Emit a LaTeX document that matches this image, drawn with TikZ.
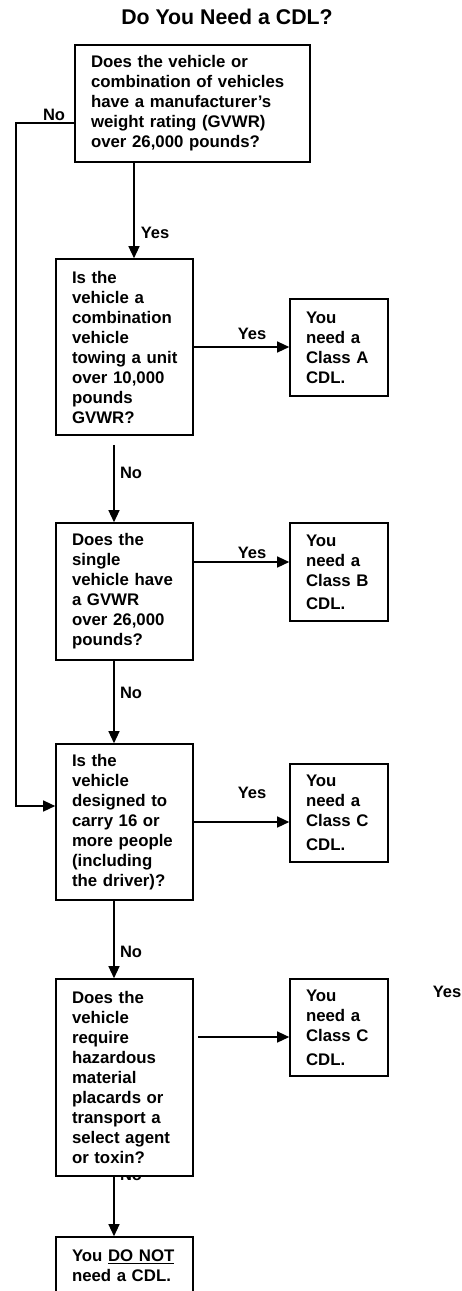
\documentclass[tikz,border=0pt]{standalone}
\usepackage{fontspec}
\setmainfont{Liberation Sans}
\usetikzlibrary{arrows.meta}

\begin{document}
\begin{tikzpicture}[x=1pt,y=-1pt,
  qbox/.style={draw,line width=1.6pt,fill=white,rectangle,align=left,inner xsep=16pt,inner ysep=0pt,font=\fontsize{16.8}{20}\selectfont\bfseries},
  lbl/.style={font=\fontsize{16.5}{20}\selectfont\bfseries},
  arr/.style={line width=1.3pt,-{Triangle[length=12pt,width=11pt]}}]
\useasboundingbox (0,0) rectangle (462,1291);
\clip (0,0) rectangle (462,1291);
\node[font=\fontsize{21.3}{24}\selectfont\bfseries] (title) at (227,17) {Do You Need a CDL?};
\node[lbl] (noHidden) at (131,1175) {No};
\node[qbox,text width=203pt,minimum height=117pt] (overGVWR) at (192.5,103.5) {Does the vehicle or\\combination of vehicles\\have a manufacturer’s\\weight rating (GVWR)\\over 26,000 pounds?};
\node[qbox,text width=105pt,minimum height=176pt] (towing) at (124.5,347) {Is the\\vehicle a\\combination\\vehicle\\\mbox{towing a unit}\\over 10,000\\pounds\\GVWR?};
\node[qbox,text width=66pt,minimum height=97pt] (classA) at (339,347.5) {You\\need a\\Class A\\CDL.};
\node[qbox,text width=105pt,minimum height=137pt] (single) at (124.5,591.5) {Does the\\single\\\mbox{vehicle have}\\a GVWR\\over 26,000\\pounds?};
\node[qbox,text width=66pt,minimum height=98pt] (classB) at (339,572) {You\\need a\\Class B\\[3pt]CDL.};
\node[qbox,text width=105pt,minimum height=156pt] (passengers) at (124.5,822) {Is the\\vehicle\\designed to\\carry 16 or\\\mbox{more people}\\(including\\the driver)?};
\node[qbox,text width=66pt,minimum height=98pt] (classC) at (339,813) {You\\need a\\Class C\\[4pt]CDL.};
\node[qbox,text width=105pt,minimum height=197pt] (hazmat) at (124.5,1077.5) {Does the\\vehicle\\require\\hazardous\\material\\placards or\\transport a\\\mbox{select agent}\\or toxin?};
\node[qbox,text width=66pt,minimum height=97pt] (classCh) at (339,1027.5) {You\\need a\\Class C\\[4pt]CDL.};
\node[qbox,text width=105pt,minimum height=57pt] (noCDL) at (124.5,1265.5) {\mbox{You \underline{DO NOT}}\\need a CDL.};
\node[lbl] (noTop) at (54,115) {No};
\node[lbl] (yesTop) at (155,233) {Yes};
\node[lbl] (yesA) at (252,334) {Yes};
\node[lbl] (noA) at (131,473) {No};
\node[lbl] (yesB) at (252,553) {Yes};
\node[lbl] (noB) at (131,693) {No};
\node[lbl] (yesC) at (252,793) {Yes};
\node[lbl] (noC) at (131,952) {No};
\node[lbl] (yesFar) at (447,992) {Yes};
\coordinate (noturn) at (16,123);
\draw[arr] ([yshift=-19.5pt]overGVWR.west) -- (noturn) |- ([yshift=16pt]passengers.west);
\draw[arr] ([xshift=-58.5pt]overGVWR.south) -- ([xshift=9.5pt]towing.north);
\draw[arr] (towing.east) -- (towing.east -| classA.west);
\draw[arr] ([xshift=-10.5pt,yshift=-9pt]towing.south) -- ([xshift=-10.5pt]single.north);
\draw[arr] ([yshift=29.5pt]single.east) -- ([yshift=29.5pt]single.east -| classB.west);
\draw[arr] ([xshift=-10.5pt]single.south) -- ([xshift=-10.5pt]passengers.north);
\draw[arr] (passengers.east) -- (passengers.east -| classC.west);
\draw[arr] ([xshift=-10.5pt]passengers.south) -- ([xshift=-10.5pt]hazmat.north);
\draw[arr] ([xshift=4pt,yshift=40.5pt]hazmat.east) -- ([yshift=40.5pt]hazmat.east -| classCh.west);
\draw[arr] ([xshift=-10.5pt]hazmat.south) -- ([xshift=-10.5pt]noCDL.north);
\end{tikzpicture}
\end{document}
